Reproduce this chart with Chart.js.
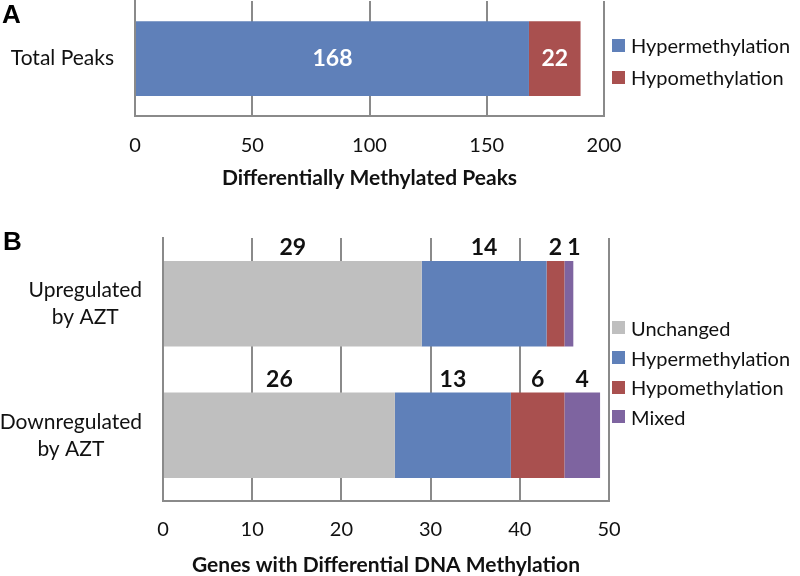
<!DOCTYPE html>
<html>
<head>
<meta charset="utf-8">
<script src="https://cdn.jsdelivr.net/npm/chart.js@4"></script>
<style>
  body { margin: 0; background: #fff; }
  #wrap { position: relative; width: 800px; height: 576px; overflow: hidden; font-family: Lato, sans-serif; color: #111; }
  canvas { position: absolute; left: 0; }
  #chartA { top: 0; }
  #chartB { top: 200px; }
  .panel { position: absolute; font: bold 26px "Liberation Sans", Arial, sans-serif; color: #000; }
  .legend { position: absolute; left: 612px; font-size: 20px; }
  .legend div { display: flex; align-items: center; white-space: nowrap; }
  .legend span.sw { display: inline-block; width: 13px; height: 13px; margin-right: 6px; }
</style>
</head>
<body>
<div id="wrap">
  <canvas id="chartA" width="800" height="200"></canvas>
  <canvas id="chartB" width="800" height="376"></canvas>
  <div class="panel" style="left:2px; top:-1px;">A</div>
  <div class="panel" style="left:3px; top:226px;">B</div>
  <div class="legend" id="legendA" style="top:29px;"></div>
  <div class="legend" id="legendB" style="top:313px;"></div>
</div>
<script>
// panel A data
const peakCats = ["Total Peaks"];
const peakHyper = [168];
const peakHypo = [22];
const peakTicks = [0, 50, 100, 150, 200];

// panel B data
const geneCats = [["Upregulated", "by AZT"], ["Downregulated", "by AZT"]];
const geneUnchanged = [29, 26];
const geneHyper = [14, 13];
const geneHypo = [2, 6];
const geneMixed = [1, 4];
const geneTicks = [0, 10, 20, 30, 40, 50];

const GRAY = "#bfbfbf", BLUE = "#5f80b9", RED = "#a9504f", PURPLE = "#7e64a0";
const LINE = "#8a8a8a";
const FONT = "Lato, sans-serif";

// category labels: lines centred on each other, block right aligned next to the axis
const catLabels = {
  id: "catLabels",
  afterDraw(chart) {
    const s = chart.scales.y, ctx = chart.ctx;
    ctx.save();
    ctx.font = "21px " + FONT;
    ctx.fillStyle = "#111";
    ctx.textAlign = "center";
    ctx.textBaseline = "middle";
    chart.data.labels.forEach((lab, i) => {
      const lines = Array.isArray(lab) ? lab : [lab];
      const w = Math.max(...lines.map(l => ctx.measureText(l).width));
      const cx = s.right - 21 - w / 2;
      const cy = s.getPixelForValue(i);
      lines.forEach((l, k) => ctx.fillText(l, cx, cy + (k - (lines.length - 1) / 2) * 27));
    });
    ctx.restore();
  }
};

// value labels on each bar segment (pushed right a little when they would touch)
const segLabels = {
  id: "segLabels",
  afterDatasetsDraw(chart, args, opts) {
    const ctx = chart.ctx;
    ctx.save();
    ctx.font = "bold 23px " + FONT;
    ctx.fillStyle = opts.color;
    ctx.textAlign = "center";
    ctx.textBaseline = "middle";
    const n = chart.data.labels.length;
    for (let j = 0; j < n; j++) {
      let prevRight = -Infinity;
      chart.data.datasets.forEach((ds, i) => {
        const bar = chart.getDatasetMeta(i).data[j];
        const txt = String(ds.data[j]);
        const w = ctx.measureText(txt).width;
        let cx = (bar.x + bar.base) / 2;
        if (cx - w / 2 < prevRight + 5) cx = prevRight + 5 + w / 2;
        prevRight = cx + w / 2;
        const cy = opts.above ? bar.y - bar.height / 2 - 13 : bar.y;
        ctx.fillText(txt, cx, cy);
      });
    }
    ctx.restore();
  }
};

function makeChart(el, cats, datasets, ticks, title, o) {
  return new Chart(el, {
    type: "bar",
    data: { labels: cats, datasets },
    plugins: [catLabels, segLabels],
    options: {
      indexAxis: "y",
      responsive: false,
      animation: false,
      layout: { padding: { top: o.top, right: o.right, left: 0, bottom: 0 } },
      datasets: { bar: { categoryPercentage: 1, barPercentage: 0.65, borderWidth: 0 } },
      plugins: {
        legend: { display: false },
        tooltip: { enabled: false },
        segLabels: { color: o.labelColor, above: o.above }
      },
      scales: {
        y: {
          stacked: true,
          ticks: { display: false },
          grid: { display: false },
          border: { display: true, color: LINE, width: 2 },
          afterFit: s => { s.width = o.left; }
        },
        x: {
          stacked: true,
          min: ticks[0],
          max: ticks[ticks.length - 1],
          afterBuildTicks: s => { s.ticks = ticks.map(v => ({ value: v })); },
          ticks: { font: { family: FONT, size: 20 }, color: "#111", padding: o.tickPad },
          grid: { color: LINE, lineWidth: 2, drawTicks: false },
          border: { color: LINE, width: 2 },
          title: {
            display: true, text: title, color: "#111",
            font: { family: FONT, size: 21, weight: "bold", lineHeight: 1 },
            padding: { top: 0, bottom: o.titlePad }
          },
          afterFit: s => { s.height = o.axisH; }
        }
      }
    }
  });
}

makeChart(document.getElementById("chartA"), peakCats, [
  { label: "Hypermethylation", data: peakHyper, backgroundColor: BLUE },
  { label: "Hypomethylation", data: peakHypo, backgroundColor: RED }
], peakTicks, "Differentially Methylated Peaks",
  { top: 1, right: 196, left: 135, axisH: 84, tickPad: 18, titlePad: 11, labelColor: "#fff", above: false });

makeChart(document.getElementById("chartB"), geneCats, [
  { label: "Unchanged", data: geneUnchanged, backgroundColor: GRAY },
  { label: "Hypermethylation", data: geneHyper, backgroundColor: BLUE },
  { label: "Hypomethylation", data: geneHypo, backgroundColor: RED },
  { label: "Mixed", data: geneMixed, backgroundColor: PURPLE }
], geneTicks, "Genes with Differential DNA Methylation",
  { top: 38, right: 191, left: 163, axisH: 75, tickPad: 17, titlePad: 0, labelColor: "#111", above: true });

function legend(id, items, lh) {
  const box = document.getElementById(id);
  items.forEach(it => {
    const row = document.createElement("div");
    row.style.height = lh + "px";
    row.innerHTML = '<span class="sw" style="background:' + it[1] + '"></span>' + it[0];
    box.appendChild(row);
  });
}
legend("legendA", [["Hypermethylation", BLUE], ["Hypomethylation", RED]], 32);
legend("legendB", [["Unchanged", GRAY], ["Hypermethylation", BLUE], ["Hypomethylation", RED], ["Mixed", PURPLE]], 29.7);
</script>
</body>
</html>
